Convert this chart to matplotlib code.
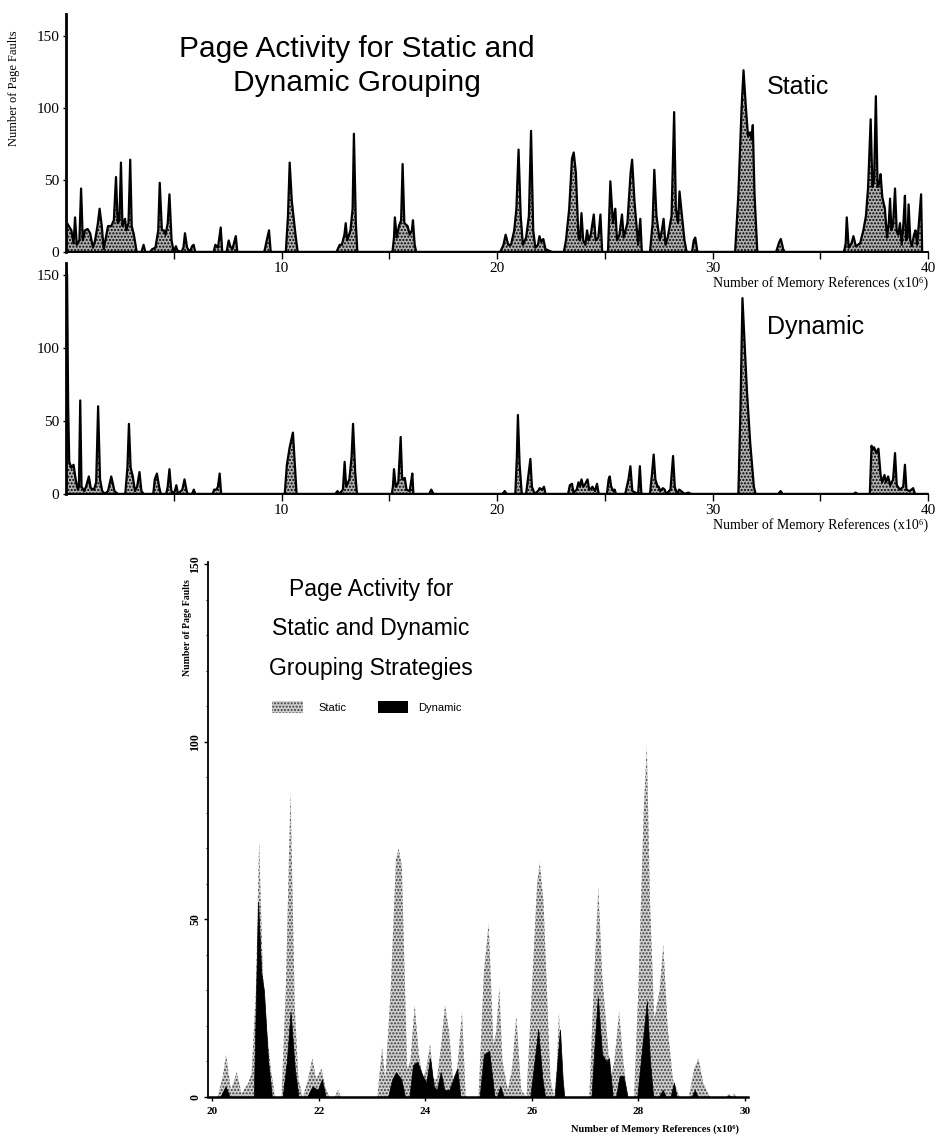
import matplotlib
matplotlib.use('Agg')
import matplotlib.pyplot as plt
from matplotlib.patches import Rectangle
import numpy as np

plt.rcParams['font.family'] = ['Liberation Serif', 'DejaVu Serif']
plt.rcParams['hatch.linewidth'] = 1.0
SANS = ['Liberation Sans', 'DejaVu Sans']

# ---- data (x in 10^6 references, y in page faults)
# full run, static grouping (vertices of the profile)
static_x = [0.00, 0.05, 0.25, 0.35, 0.42, 0.50, 0.62, 0.70, 0.78, 0.88, 1.00, 1.12, 1.25, 1.35,
            1.48, 1.56, 1.66, 1.75, 1.85, 1.95, 2.10, 2.22, 2.32, 2.40, 2.48, 2.55, 2.62, 2.68,
            2.74, 2.80, 2.90, 2.98, 3.05, 3.15, 3.28, 3.50, 3.60, 3.68, 3.90, 4.00, 4.15, 4.28,
            4.35, 4.45, 4.55, 4.62, 4.72, 4.80, 4.90, 5.00, 5.10, 5.17, 5.35, 5.45, 5.52, 5.62,
            5.75, 5.85, 5.92, 6.00, 6.85, 6.93, 7.05, 7.18, 7.25, 7.45, 7.55, 7.62, 7.72, 7.88,
            7.95, 9.20, 9.30, 9.42, 9.50, 10.20, 10.30, 10.38, 10.48, 10.65, 10.75, 12.55, 12.70,
            12.80, 12.92, 12.98, 13.05, 13.20, 13.30, 13.36, 13.45, 13.52, 15.15, 15.22, 15.26,
            15.35, 15.45, 15.55, 15.62, 15.70, 15.85, 15.95, 16.05, 16.10, 16.18, 16.25, 20.15,
            20.30, 20.40, 20.52, 20.65, 20.80, 20.90, 21.00, 21.10, 21.20, 21.35, 21.48, 21.58,
            21.68, 21.78, 21.90, 21.97, 22.05, 22.15, 22.25, 22.40, 22.55, 23.10, 23.20, 23.35,
            23.48, 23.56, 23.66, 23.78, 23.85, 23.92, 24.00, 24.10, 24.18, 24.25, 24.35, 24.49,
            24.58, 24.70, 24.80, 24.88, 25.15, 25.26, 25.38, 25.49, 25.57, 25.68, 25.80, 25.88,
            26.05, 26.20, 26.27, 26.38, 26.55, 26.65, 26.72, 27.10, 27.22, 27.30, 27.40, 27.55,
            27.65, 27.73, 27.82, 27.92, 28.10, 28.22, 28.30, 28.40, 28.47, 28.55, 28.70, 28.80,
            29.05, 29.13, 29.20, 29.30, 31.05, 31.20, 31.35, 31.44, 31.55, 31.65, 31.75, 31.82,
            31.87, 31.95, 32.08, 32.95, 33.10, 33.17, 33.28, 33.35, 36.10, 36.18, 36.23, 36.32,
            36.45, 36.54, 36.65, 36.85, 37.00, 37.12, 37.22, 37.34, 37.42, 37.50, 37.58, 37.66,
            37.75, 37.80, 37.88, 38.00, 38.10, 38.18, 38.24, 38.30, 38.38, 38.47, 38.55, 38.62,
            38.70, 38.78, 38.86, 38.93, 38.98, 39.05, 39.10, 39.18, 39.25, 39.35, 39.42, 39.50,
            39.55, 39.68, 39.73]
static_y = [20, 20, 15, 6, 24, 5, 8, 44, 8, 15, 16, 13, 3, 8,
            20, 30, 18, 2, 10, 18, 18, 22, 52, 20, 22, 62, 18, 20,
            23, 15, 20, 64, 18, 12, 0, 0, 5, 0, 0, 2, 3, 15,
            48, 15, 15, 12, 20, 40, 8, 0, 4, 1, 0, 3, 13, 3,
            0, 4, 5, 0, 0, 5, 3, 17, 0, 0, 8, 4, 2, 11,
            0, 0, 7, 15, 0, 0, 25, 62, 35, 12, 0, 0, 5,
            5, 12, 20, 8, 15, 30, 82, 20, 0, 0, 10, 24,
            10, 18, 22, 61, 20, 18, 12, 15, 22, 5, 0, 0,
            5, 12, 5, 5, 15, 30, 71, 25, 5, 10, 25, 84,
            15, 3, 5, 11, 7, 9, 2, 1, 0, 0, 8, 30,
            65, 69, 55, 10, 8, 27, 8, 5, 15, 8, 12, 26,
            8, 10, 26, 0, 0, 49, 20, 30, 8, 12, 26, 10,
            20, 55, 64, 35, 5, 23, 0, 0, 20, 57, 25, 8,
            15, 23, 5, 10, 25, 97, 30, 20, 42, 30, 8, 0,
            0, 8, 10, 0, 0, 40, 100, 126, 100, 80, 83, 78,
            88, 40, 0, 0, 7, 9, 2, 0, 0, 6, 24, 3,
            6, 11, 4, 6, 15, 25, 45, 92, 45, 50, 108, 45,
            48, 54, 38, 30, 10, 20, 37, 15, 20, 44, 14, 12,
            20, 5, 20, 39, 8, 10, 33, 8, 4, 12, 15, 5,
            15, 40, 0]

# full run, dynamic grouping
dynamic_x = [0.00, 0.05, 0.10, 0.15, 0.25, 0.35, 0.45, 0.55, 0.60, 0.66, 0.72, 0.85, 0.95, 1.06,
             1.15, 1.30, 1.40, 1.49, 1.58, 1.68, 1.80, 1.95, 2.10, 2.25, 2.40, 2.75, 2.85, 2.92,
             3.00, 3.10, 3.20, 3.30, 3.41, 3.50, 3.60, 4.05, 4.12, 4.22, 4.32, 4.40, 4.65, 4.72,
             4.80, 4.88, 4.95, 5.05, 5.12, 5.20, 5.40, 5.50, 5.60, 5.65, 5.85, 5.93, 6.00, 6.80,
             6.88, 6.98, 7.05, 7.13, 7.20, 10.15, 10.25, 10.38, 10.53, 10.62, 10.70, 12.50, 12.60,
             12.68, 12.85, 12.93, 13.00, 13.15, 13.25, 13.32, 13.42, 13.50, 15.12, 15.17, 15.22,
             15.30, 15.42, 15.53, 15.60, 15.72, 15.80, 15.95, 16.03, 16.07, 16.12, 16.85, 16.95,
             17.05, 20.25, 20.36, 20.45, 20.85, 20.92, 20.97, 21.05, 21.15, 21.35, 21.45, 21.55,
             21.62, 21.75, 21.90, 21.98, 22.10, 22.18, 22.25, 23.30, 23.38, 23.48, 23.55, 23.70,
             23.78, 23.85, 23.92, 24.00, 24.10, 24.20, 24.28, 24.38, 24.43, 24.55, 24.64, 24.72,
             25.10, 25.18, 25.23, 25.30, 25.40, 25.46, 25.52, 25.95, 26.10, 26.19, 26.28, 26.55,
             26.63, 26.70, 27.10, 27.20, 27.27, 27.35, 27.45, 27.50, 27.58, 27.70, 27.78, 27.85,
             28.05, 28.17, 28.25, 28.35, 28.45, 28.55, 28.70, 28.88, 29.00, 31.20, 31.30, 31.39,
             31.50, 31.60, 31.75, 31.92, 32.00, 33.05, 33.16, 33.25, 36.55, 36.64, 36.72, 37.30,
             37.38, 37.43, 37.50, 37.60, 37.70, 37.80, 37.88, 37.98, 38.05, 38.15, 38.25, 38.38,
             38.47, 38.55, 38.70, 38.85, 38.93, 39.00, 39.15, 39.31, 39.40, 40.00]
dynamic_y = [155, 150, 60, 22, 18, 20, 10, 3, 5, 64, 5, 2, 6, 12,
             4, 3, 8, 60, 10, 2, 0, 2, 12, 2, 0, 0, 18, 48,
             18, 12, 2, 5, 15, 2, 0, 0, 10, 14, 5, 0, 0, 5,
             17, 3, 0, 2, 6, 0, 3, 10, 2, 0, 0, 3, 0, 0,
             3, 3, 5, 14, 0, 0, 20, 32, 42, 20, 0, 0, 2,
             0, 3, 22, 5, 10, 25, 48, 15, 0, 0, 5, 17,
             5, 8, 39, 10, 11, 3, 2, 10, 14, 0, 0, 3,
             0, 0, 2, 0, 0, 25, 54, 20, 0, 0, 12, 24,
             5, 0, 2, 4, 3, 5, 0, 0, 6, 7, 1, 3,
             8, 5, 10, 5, 7, 10, 3, 4, 5, 2, 7, 0,
             0, 10, 12, 5, 2, 3, 0, 0, 10, 19, 2, 0,
             19, 0, 0, 15, 27, 10, 5, 5, 2, 4, 3, 0,
             3, 26, 5, 0, 3, 2, 0, 1, 0, 0, 60, 134,
             100, 70, 35, 5, 0, 0, 2, 0, 0, 1, 0, 0,
             33, 30, 32, 28, 31, 13, 8, 13, 8, 12, 6, 10,
             28, 6, 3, 5, 20, 3, 2, 4, 0, 0]

# close-up 20..30 x10^6, static grouping
zoom_static_x = [20.00, 20.10, 20.20, 20.26, 20.35, 20.46, 20.55, 20.68, 20.74, 20.82, 20.88, 20.95,
                 21.03, 21.10, 21.18, 21.30, 21.38, 21.47, 21.55, 21.62, 21.70, 21.80, 21.88, 21.95,
                 22.05, 22.12, 22.20, 22.30, 22.36, 22.42, 23.10, 23.19, 23.25, 23.35, 23.45, 23.50,
                 23.56, 23.66, 23.72, 23.80, 23.88, 23.95, 24.02, 24.09, 24.15, 24.22, 24.30, 24.37,
                 24.45, 24.52, 24.60, 24.69, 24.76, 25.00, 25.10, 25.19, 25.28, 25.33, 25.39, 25.45,
                 25.55, 25.63, 25.71, 25.80, 25.90, 26.00, 26.10, 26.15, 26.22, 26.35, 26.42, 26.47,
                 26.51, 26.58, 27.08, 27.16, 27.25, 27.32, 27.40, 27.48, 27.55, 27.64, 27.72, 27.80,
                 27.92, 28.00, 28.10, 28.16, 28.22, 28.30, 28.40, 28.47, 28.55, 28.65, 28.78, 28.95,
                 29.05, 29.13, 29.22, 29.35, 29.65, 29.70, 29.75, 29.80, 29.85, 30.00]
zoom_static_y = [0, 0, 6, 12, 2, 7, 1, 4, 7, 30, 72, 35,
                 18, 8, 0, 0, 30, 86, 25, 5, 0, 5, 11, 5,
                 8, 3, 0, 0, 2, 0, 0, 14, 5, 30, 67, 70,
                 65, 8, 10, 26, 12, 5, 8, 15, 5, 5, 15, 26,
                 18, 5, 8, 24, 0, 0, 35, 49, 15, 18, 31, 10,
                 2, 8, 23, 2, 0, 30, 60, 66, 55, 5, 0, 8,
                 24, 0, 0, 30, 59, 35, 20, 5, 10, 24, 10, 0,
                 0, 30, 80, 99, 55, 22, 30, 43, 20, 5, 0, 0,
                 8, 11, 4, 0, 0, 1, 0, 1, 0, 0]

# close-up 20..30 x10^6, dynamic grouping
zoom_dynamic_x = [20.00, 20.15, 20.25, 20.33, 20.78, 20.86, 20.92, 20.97, 21.05, 21.12, 21.32, 21.40,
                  21.47, 21.55, 21.62, 21.78, 21.88, 21.98, 22.06, 22.13, 23.30, 23.38, 23.45, 23.55,
                  23.62, 23.70, 23.77, 23.85, 23.95, 24.02, 24.09, 24.16, 24.22, 24.29, 24.36, 24.45,
                  24.55, 24.60, 24.66, 25.02, 25.10, 25.20, 25.30, 25.34, 25.41, 25.47, 25.97, 26.05,
                  26.12, 26.20, 26.25, 26.43, 26.48, 26.53, 26.58, 26.61, 27.12, 27.18, 27.24, 27.32,
                  27.40, 27.45, 27.52, 27.58, 27.65, 27.72, 27.80, 27.98, 28.08, 28.16, 28.22, 28.28,
                  28.38, 28.46, 28.52, 28.60, 28.67, 28.72, 29.00, 29.06, 29.12, 29.65, 29.70, 29.75,
                  30.00]
zoom_dynamic_y = [0, 0, 3, 0, 0, 55, 35, 30, 10, 0, 0, 10,
                  24, 8, 0, 0, 3, 2, 5, 0, 0, 5, 7, 5,
                  0, 0, 9, 10, 6, 4, 11, 3, 2, 7, 2, 2,
                  6, 8, 0, 0, 12, 13, 0, 0, 3, 0, 0, 10,
                  19, 5, 0, 0, 10, 19, 5, 0, 0, 15, 28, 12,
                  10, 11, 0, 0, 6, 6, 0, 0, 15, 27, 10, 0,
                  0, 2, 0, 0, 4, 0, 0, 2, 0, 0, 0.5, 0,
                  0]

full_ticks = [5, 10, 15, 20, 25, 30, 35, 40]
full_ticklabels = ['', '10', '', '20', '', '30', '', '40']
fault_ticks = [0, 50, 100, 150]
zoom_ticks = [20, 22, 24, 26, 28, 30]

W, H = 941, 1140
fig = plt.figure(figsize=(W / 100, H / 100), dpi=100)


def fx(px):
    return px / W


def fy(py):
    return 1 - py / H


def style_full(ax, top):
    ax.set_facecolor('none')
    ax.set_xlim(0, 40)
    ax.set_ylim(0, top)
    for s in ['top', 'right']:
        ax.spines[s].set_visible(False)
    ax.spines['left'].set_linewidth(2.0)
    ax.spines['bottom'].set_linewidth(1.4)
    ax.set_xticks(full_ticks)
    ax.set_xticklabels(full_ticklabels, fontsize=11)
    ax.set_yticks(fault_ticks)
    ax.set_yticklabels([str(t) for t in fault_ticks], fontsize=11)
    ax.tick_params(axis='x', length=5, width=1, pad=2)
    ax.tick_params(axis='y', length=2, width=1, pad=3)


def profile(ax, x, y):
    # stippled mid grey with a heavy black outline, like the printed figure
    with plt.rc_context({'hatch.color': 'black'}):
        ax.fill_between(x, y, 0, facecolor='#b0b0b0', hatch='.....',
                        edgecolor='black', linewidth=1.6, zorder=2)


# ---- top: static grouping
ax1 = fig.add_axes([fx(66), fy(252), fx(928) - fx(66), (252 - 14) / H])
profile(ax1, static_x, static_y)
style_full(ax1, 165)
fig.text(fx(767), fy(87), 'Static', family=SANS, fontsize=18, va='center')

# ---- middle: dynamic grouping
ax2 = fig.add_axes([fx(66), fy(494), fx(928) - fx(66), (494 - 263) / H])
profile(ax2, dynamic_x, dynamic_y)
style_full(ax2, 158)
fig.text(fx(767), fy(327), 'Dynamic', family=SANS, fontsize=18, va='center')

fig.text(fx(357), fy(66), 'Page Activity for Static and\nDynamic Grouping',
         family=SANS, fontsize=21.5, ha='center', va='center', linespacing=1.28)
fig.text(fx(14), fy(88), 'Number of Page Faults', rotation=90, fontsize=9,
         ha='center', va='center')
for yl in [283, 525]:
    fig.text(fx(928), fy(yl), 'Number of Memory References (x10⁶)', fontsize=10,
             ha='right', va='center')

# ---- bottom: close-up, both strategies
ax3 = fig.add_axes([fx(208), fy(1097), 540 / W, (1097 - 562) / H])
ax3.set_facecolor('none')
with plt.rc_context({'hatch.color': '#3c3c3c'}):
    ax3.fill_between(zoom_static_x, zoom_static_y, 0, facecolor='#cfcfcf', hatch='.....',
                     edgecolor='none', linewidth=0, zorder=2)
ax3.fill_between(zoom_dynamic_x, zoom_dynamic_y, 0, facecolor='black',
                 edgecolor='black', linewidth=0.5, zorder=3)
ax3.set_xlim(19.92, 30.06)
ax3.set_ylim(0, 150.6)
for s in ['top', 'right']:
    ax3.spines[s].set_visible(False)
ax3.spines['left'].set_linewidth(1.3)
ax3.spines['bottom'].set_linewidth(1.8)
ax3.set_xticks(zoom_ticks)
ax3.set_xticklabels([str(t) for t in zoom_ticks], fontsize=8, fontweight='bold')
ax3.set_yticks(fault_ticks)
ax3.set_yticklabels([str(t) for t in fault_ticks], fontsize=8.5, rotation=90, va='center',
                    fontweight='bold')
ax3.set_yticks(np.arange(0, 151, 10), minor=True)
ax3.tick_params(axis='x', length=3, width=1, pad=4)
ax3.tick_params(axis='y', which='major', length=3, width=1, pad=2)
ax3.tick_params(axis='y', which='minor', length=1.5, width=0.8)

fig.text(fx(188), fy(628), 'Number of Page Faults', rotation=90, fontsize=7,
         fontweight='bold', ha='center', va='center')
fig.text(fx(655), fy(1129), 'Number of Memory References (x10⁶)', fontsize=7.5,
         fontweight='bold', ha='center', va='center')
fig.text(fx(371), fy(629), 'Page Activity for\nStatic and Dynamic\nGrouping Strategies',
         family=SANS, fontsize=16.5, ha='center', va='center', linespacing=1.9)

# legend of the close-up
fig.add_artist(Rectangle((fx(272), fy(713)), 31 / W, 12 / H, transform=fig.transFigure,
                         facecolor='#cfcfcf', hatch='.....', edgecolor='#3c3c3c', linewidth=0))
fig.add_artist(Rectangle((fx(378), fy(713)), 30 / W, 12 / H, transform=fig.transFigure,
                         facecolor='black', edgecolor='black', linewidth=0))
fig.text(fx(318), fy(708), 'Static', family=SANS, fontsize=8, va='center')
fig.text(fx(418), fy(708), 'Dynamic', family=SANS, fontsize=8, va='center')

fig.savefig('out.png', dpi=100)
